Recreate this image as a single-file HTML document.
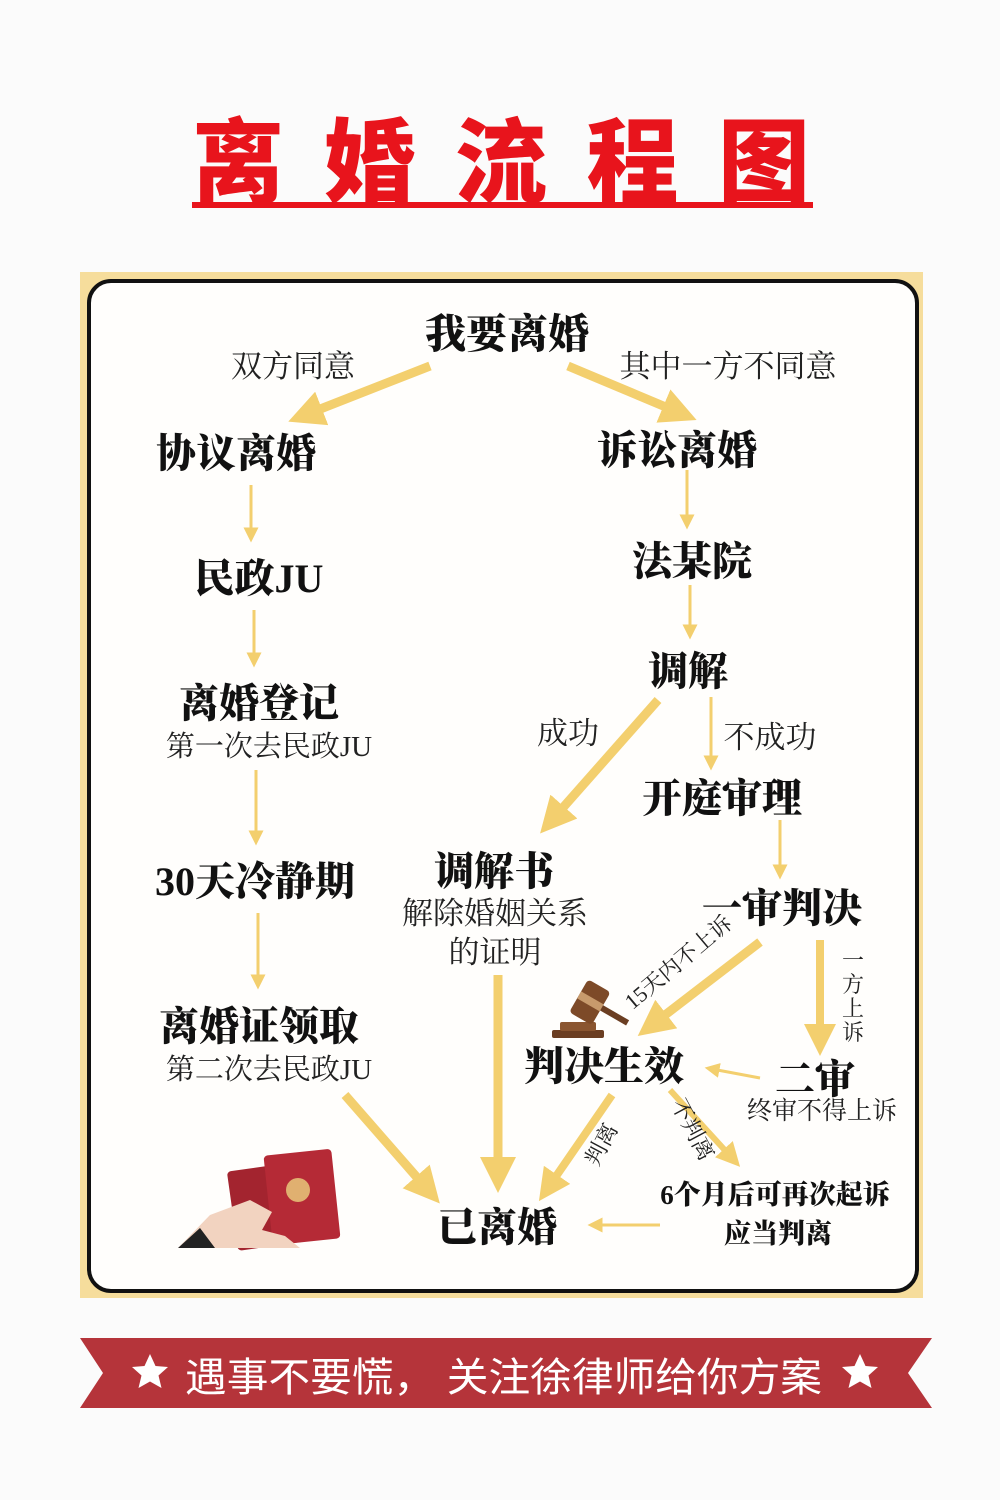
<!DOCTYPE html>
<html><head><meta charset="utf-8"><style>
html,body{margin:0;padding:0;background:#fbfbfb;}
svg{display:block}
.b{font-family:"Liberation Serif","Noto Serif CJK SC",serif;font-weight:900;fill:#111}
.n{font-family:"Liberation Serif","Noto Serif CJK SC",serif;fill:#222}
</style></head><body>
<svg width="1000" height="1500" viewBox="0 0 1000 1500" xmlns="http://www.w3.org/2000/svg">
<defs>
<marker id="h" viewBox="0 0 10 10" refX="5" refY="5" markerWidth="4" markerHeight="4" orient="auto" markerUnits="strokeWidth"><path d="M0,0L10,5L0,10z" fill="#f3cf6e"/></marker>
<marker id="ht" viewBox="0 0 10 10" refX="5" refY="5" markerWidth="5" markerHeight="5" orient="auto" markerUnits="strokeWidth"><path d="M0,0L10,5L0,10z" fill="#f3cf6e"/></marker>
</defs>
<rect width="1000" height="1500" fill="#fbfbfb"/>
<!-- title -->
<text x="192" y="195" font-family="'Noto Sans CJK SC',sans-serif" font-weight="900" font-size="92" fill="#e8141c" textLength="618" lengthAdjust="spacing">离婚流程图</text>
<rect x="192" y="202" width="621" height="6" fill="#e8141c"/>
<!-- frame -->
<rect x="80" y="272" width="843" height="1026" fill="#f6dd9c"/>
<rect x="89" y="281" width="828" height="1010" rx="22" fill="#fffefc" stroke="#111" stroke-width="4"/>
<g stroke="#f3cf6e" fill="none" stroke-linecap="butt">
<line x1="430" y1="366" x2="305" y2="415" stroke-width="9" marker-end="url(#h)"/>
<line x1="568" y1="366" x2="680" y2="413" stroke-width="9" marker-end="url(#h)"/>
<line x1="251" y1="485" x2="251" y2="535" stroke-width="3" marker-end="url(#ht)"/>
<line x1="687" y1="470" x2="687" y2="522" stroke-width="3" marker-end="url(#ht)"/>
<line x1="254" y1="610" x2="254" y2="660" stroke-width="3" marker-end="url(#ht)"/>
<line x1="690" y1="585" x2="690" y2="632" stroke-width="3" marker-end="url(#ht)"/>
<line x1="256" y1="770" x2="256" y2="838" stroke-width="3" marker-end="url(#ht)"/>
<line x1="658" y1="700" x2="552" y2="820" stroke-width="9" marker-end="url(#h)"/>
<line x1="711" y1="697" x2="711" y2="763" stroke-width="3" marker-end="url(#ht)"/>
<line x1="258" y1="913" x2="258" y2="982" stroke-width="3" marker-end="url(#ht)"/>
<line x1="780" y1="820" x2="780" y2="872" stroke-width="3" marker-end="url(#ht)"/>
<line x1="760" y1="942" x2="652" y2="1025" stroke-width="9" marker-end="url(#h)"/>
<line x1="820" y1="940" x2="820" y2="1040" stroke-width="8" marker-end="url(#h)"/>
<line x1="760" y1="1078" x2="712" y2="1069" stroke-width="3" marker-end="url(#ht)"/>
<line x1="498" y1="975" x2="498" y2="1175" stroke-width="9" marker-end="url(#h)"/>
<line x1="345" y1="1095" x2="428" y2="1190" stroke-width="9" marker-end="url(#h)"/>
<line x1="612" y1="1095" x2="548" y2="1188" stroke-width="8" marker-end="url(#h)"/>
<line x1="670" y1="1090" x2="732" y2="1158" stroke-width="6" marker-end="url(#h)"/>
<line x1="660" y1="1225" x2="595" y2="1225" stroke-width="3" marker-end="url(#ht)"/>
</g>
<!-- texts -->
<g class="b" text-anchor="middle">
<text x="507" y="348" font-size="41">我要离婚</text>
<text x="236" y="467" font-size="40">协议离婚</text>
<text x="677" y="464" font-size="40">诉讼离婚</text>
<text x="259" y="592" font-size="40">民政JU</text>
<text x="692" y="575" font-size="40">法某院</text>
<text x="688" y="685" font-size="40">调解</text>
<text x="259" y="717" font-size="40">离婚登记</text>
<text x="722" y="812" font-size="40">开庭审理</text>
<text x="255" y="895" font-size="40">30天冷静期</text>
<text x="494" y="885" font-size="40">调解书</text>
<text x="782" y="922" font-size="40">一审判决</text>
<text x="259" y="1040" font-size="40">离婚证领取</text>
<text x="604" y="1080" font-size="40">判决生效</text>
<text x="815" y="1093" font-size="40">二审</text>
<text x="497" y="1241" font-size="40">已离婚</text>
<text x="775" y="1204" font-size="27">6个月后可再次起诉</text>
<text x="778" y="1243" font-size="27">应当判离</text>
</g>
<g class="n" text-anchor="middle">
<text x="293" y="377" font-size="31">双方同意</text>
<text x="728" y="377" font-size="31">其中一方不同意</text>
<text x="269" y="756" font-size="29">第一次去民政JU</text>
<text x="568" y="744" font-size="31">成功</text>
<text x="770" y="748" font-size="31">不成功</text>
<text x="495" y="924" font-size="31">解除婚姻关系</text>
<text x="495" y="963" font-size="31">的证明</text>
<text x="269" y="1079" font-size="29">第二次去民政JU</text>
<text x="822" y="1119" font-size="25">终审不得上诉</text>
<text transform="translate(683,968) rotate(-40)" font-size="22">15天内不上诉</text>
<text transform="translate(608,1148) rotate(-62)" font-size="22">判离</text>
<text transform="translate(686,1133) rotate(62)" font-size="22">不判离</text>
<text x="853" y="968" font-size="22">一</text>
<text x="853" y="992" font-size="22">方</text>
<text x="853" y="1016" font-size="22">上</text>
<text x="853" y="1040" font-size="22">诉</text>
</g>
<!-- gavel -->
<g>
<rect x="552" y="1030" width="52" height="8" rx="2" fill="#6b3e22"/>
<rect x="560" y="1022" width="36" height="9" rx="2" fill="#8a5530"/>
<g transform="rotate(30 590 1000)">
<rect x="578" y="983" width="26" height="38" rx="4" fill="#7d4a28"/>
<rect x="578" y="997" width="26" height="8" fill="#c79a6c"/>
<rect x="604" y="998" width="30" height="6" fill="#6b3e22"/>
</g>
</g>
<!-- passports -->
<g>
<rect x="232" y="1165" width="90" height="80" rx="4" fill="#a3242f" transform="rotate(-8 277 1205)"/>
<rect x="268" y="1152" width="68" height="90" rx="4" fill="#b52a36" transform="rotate(-6 302 1197)"/>
<circle cx="298" cy="1190" r="12" fill="#e0b070"/>
<path d="M178,1248 L210,1215 L250,1200 L272,1212 L262,1230 L285,1236 L300,1248 Z" fill="#f2d3c0"/>
<path d="M178,1248 L200,1228 L215,1248 Z" fill="#222"/>
</g>
<!-- banner -->
<path d="M80,1338 L932,1338 L908,1373 L932,1408 L80,1408 L103,1373 Z" fill="#b5343a"/>
<path id="st" d="M150,1354 L155.5,1366 L168,1367 L158.5,1375.5 L161.5,1388 L150,1381.5 L138.5,1388 L141.5,1375.5 L132,1367 L144.5,1366 Z" fill="#fff"/>
<path d="M860,1354 L865.5,1366 L878,1367 L868.5,1375.5 L871.5,1388 L860,1381.5 L848.5,1388 L851.5,1375.5 L842,1367 L854.5,1366 Z" fill="#fff"/>
<text x="185" y="1391" font-size="40" fill="#fff" textLength="637" lengthAdjust="spacingAndGlyphs" font-family="'Liberation Sans','Noto Sans CJK SC',sans-serif">遇事不要慌，  关注徐律师给你方案</text>
</svg>
</body></html>
